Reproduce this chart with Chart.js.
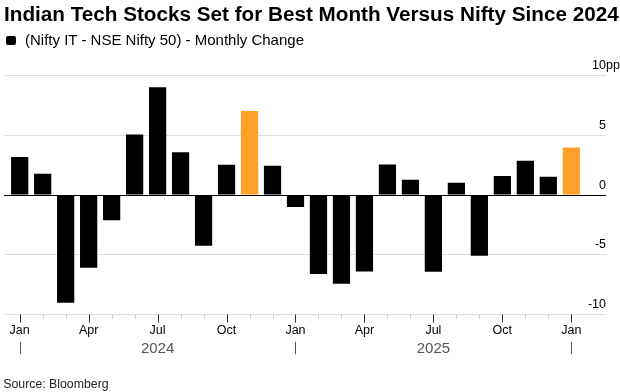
<!DOCTYPE html>
<html>
<head>
<meta charset="utf-8">
<script src="https://cdn.jsdelivr.net/npm/chart.js@4"></script>
<style>
html,body{margin:0;padding:0;background:#fff;}
body{width:620px;height:392px;position:relative;overflow:hidden;font-family:"Liberation Sans",Arial,sans-serif;}
#title{position:absolute;left:4px;top:2.3px;font-size:20.7px;font-weight:bold;color:#000;white-space:nowrap;line-height:normal;}
#sub{position:absolute;left:25px;top:31px;font-size:15px;color:#000;white-space:nowrap;line-height:normal;}
#sq{position:absolute;left:6px;top:36px;width:10px;height:9px;background:#000;border-radius:2px;}
#src{position:absolute;left:3.3px;top:376.6px;font-size:12.3px;color:#222;white-space:nowrap;line-height:normal;}
canvas{position:absolute;left:0;top:0;}
</style>
</head>
<body>
<canvas id="c" width="620" height="392"></canvas>
<div id="title">Indian Tech Stocks Set for Best Month Versus Nifty Since 2024</div>
<div id="sq"></div>
<div id="sub">(Nifty IT - NSE Nifty 50) - Monthly Change</div>
<div id="src">Source: Bloomberg</div>
<script>
// ---- data ----
const monthLabels = ['Jan','Feb','Mar','Apr','May','Jun','Jul','Aug','Sep','Oct','Nov','Dec',
                     'Jan','Feb','Mar','Apr','May','Jun','Jul','Aug','Sep','Oct','Nov','Dec',
                     'Jan'];
const monthYears = [2024,2024,2024,2024,2024,2024,2024,2024,2024,2024,2024,2024,
                    2025,2025,2025,2025,2025,2025,2025,2025,2025,2025,2025,2025,
                    2026];
const changeValues = [3.18, 1.78, -9.03, -6.10, -2.12, 5.07, 9.03, 3.59, -4.26, 2.53, 7.05, 2.45,
                      -1.00, -6.63, -7.44, -6.41, 2.56, 1.28, -6.43, 1.03, -5.10, 1.59, 2.87, 1.53,
                      3.98];
const highlightMonths = [10, 24]; // Nov 2024, Jan 2026
const shownMonthLabels = ['Jan','Apr','Jul','Oct'];
const yearLabels = ['2024','2025'];
const yTickValues = [-10, -5, 0, 5, 10];
const yUnit = 'pp';

// ---- chart ----
const BLACK = '#000000', ORANGE = '#ffa028';
const FONT = '"Liberation Sans", Arial, sans-serif';

const decoPlugin = {
  id: 'deco',
  afterDatasetsDraw(chart) {
    const {ctx, chartArea: a, scales: {x, y}} = chart;
    ctx.save();
    // zero line over bars
    const y0 = Math.round(y.getPixelForValue(0)) + 0.5;
    ctx.strokeStyle = '#000'; ctx.lineWidth = 1;
    ctx.beginPath(); ctx.moveTo(a.left, y0); ctx.lineTo(a.right, y0); ctx.stroke();

    // y labels (above gridlines, right aligned)
    ctx.font = '12.5px ' + FONT;
    ctx.fillStyle = '#000';
    ctx.textBaseline = 'alphabetic';
    const top = yTickValues[yTickValues.length - 1];
    yTickValues.forEach(v => {
      const py = y.getPixelForValue(v) - 6.5;
      ctx.textAlign = 'right';
      ctx.fillText(String(v), a.right, py);
      if (v === top) { ctx.textAlign = 'left'; ctx.fillText(yUnit, a.right, py); }
    });

    // x tick marks
    const base = Math.round(a.bottom) + 0.5;
    monthLabels.forEach((m, i) => {
      const px = Math.round(x.getPixelForValue(i)) + 0.5;
      const major = shownMonthLabels.includes(m);
      ctx.strokeStyle = major ? '#333' : '#cfcfcf';
      ctx.beginPath();
      ctx.moveTo(px, base);
      ctx.lineTo(px, base + (major ? 8 : 4.3));
      ctx.stroke();
      if (major) {
        ctx.fillStyle = '#000';
        ctx.font = '12.5px ' + FONT;
        ctx.textAlign = 'center';
        ctx.fillText(m, x.getPixelForValue(i), 334.3);
      }
      if (m === 'Jan') {
        ctx.strokeStyle = '#555';
        ctx.beginPath();
        ctx.moveTo(px, 341.7);
        ctx.lineTo(px, 354.3);
        ctx.stroke();
      }
    });
    // year labels centered at July of each year
    ctx.font = '15px ' + FONT;
    ctx.fillStyle = '#555';
    ctx.textAlign = 'center';
    yearLabels.forEach(yr => {
      const idx = monthLabels.findIndex((m, i) => m === 'Jul' && String(monthYears[i]) === yr);
      if (idx >= 0) ctx.fillText(yr, x.getPixelForValue(idx), 352.7);
    });
    ctx.restore();
  }
};

new Chart(document.getElementById('c'), {
  type: 'bar',
  data: {
    datasets: [{
      data: changeValues.map((v, i) => ({x: i, y: v})),
      backgroundColor: changeValues.map((v, i) => highlightMonths.includes(i) ? ORANGE : BLACK),
      borderWidth: 0,
      categoryPercentage: 1,
      barPercentage: 0.75
    }]
  },
  options: {
    responsive: false,
    devicePixelRatio: 1,
    animation: false,
    layout: {padding: {top: 75.7, bottom: 77.7, left: 4, right: 14}},
    plugins: {legend: {display: false}, tooltip: {enabled: false}, title: {display: false}},
    scales: {
      x: {
        type: 'linear',
        min: -0.683,
        max: 25.51,
        offset: false,
        display: true,
        grid: {display: false, drawTicks: false},
        border: {display: false},
        ticks: {display: false},
        afterBuildTicks: s => { s.ticks = monthLabels.map((_, i) => ({value: i})); },
        afterFit: s => { s.height = 0; }
      },
      y: {
        position: 'right',
        min: -10,
        max: 10,
        display: true,
        ticks: {display: false, stepSize: 5},
        grid: {
          drawTicks: false,
          color: c => (c.tick && c.tick.value === 0) ? '#000' : '#dcdcdc',
          lineWidth: 1
        },
        border: {display: false},
        afterFit: s => { s.width = 0; }
      }
    }
  },
  plugins: [decoPlugin]
});
</script>
</body>
</html>
